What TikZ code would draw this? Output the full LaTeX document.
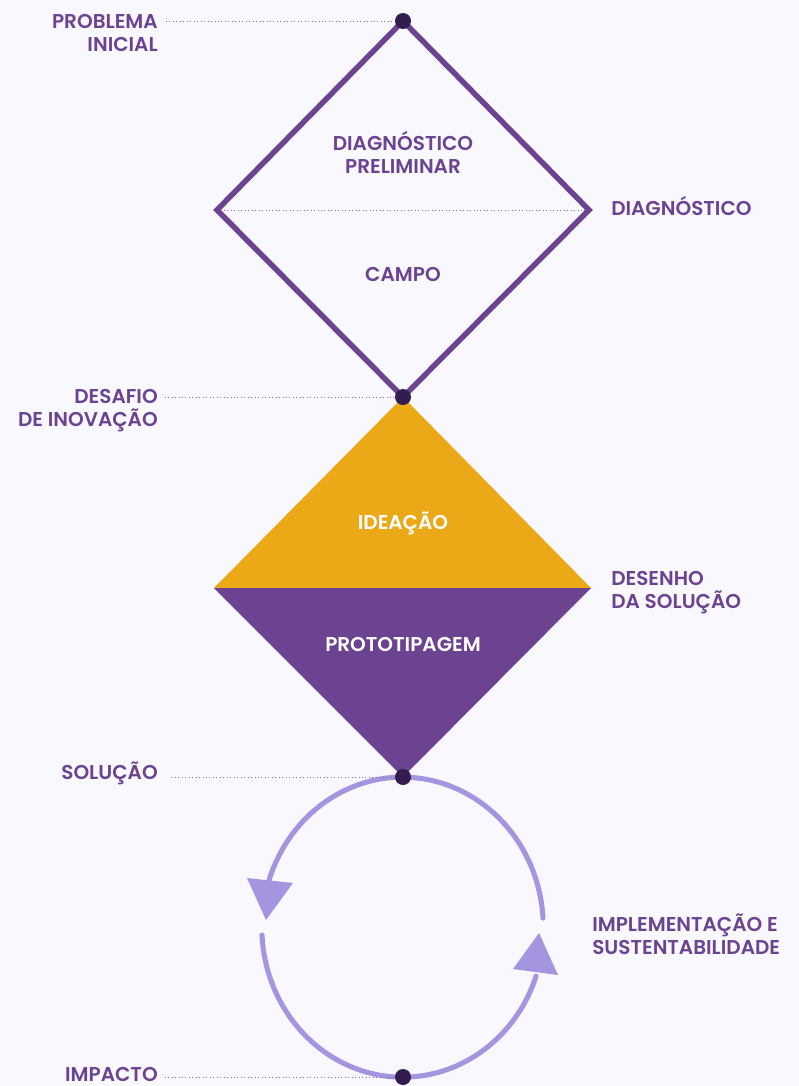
\documentclass[tikz,border=0pt]{standalone}
\usepackage{fontspec}
\setmainfont{Poppins}[BoldFont={Poppins SemiBold}]
\definecolor{bg}{HTML}{F9F8FE}
\definecolor{pur}{HTML}{6B4391}
\definecolor{dark}{HTML}{331D4F}
\definecolor{org}{HTML}{EBA817}
\definecolor{lav}{HTML}{A594E0}
\tikzset{
  lbl/.style={text=pur, font=\bfseries\fontsize{15}{17.25}\selectfont, inner sep=0pt},
  lblr/.style={lbl, align=right, anchor=east},
  lbll/.style={lbl, align=left, anchor=west},
  lblc/.style={lbl, align=center},
  inner/.style={lbl, align=center, text=white},
  dot/.style={circle, fill=dark, minimum size=12pt, inner sep=0pt},
  guide/.style={pur!80, line width=0.6pt, dotted},
  edge/.style={pur, line width=4.1pt, line join=miter},
  ring/.style={lav, line width=3.8pt, line cap=round},
  tri/.style={fill=lav}
}
\begin{document}
\begin{tikzpicture}[x=0.75pt,y=-0.75pt]
\fill[bg] (0,0) rectangle (799,1086);
\useasboundingbox (0,0) rectangle (799,1086);
% coordinates
\coordinate (L1) at (217,210);
\coordinate (R1) at (589,210);
\coordinate (L2) at (214,588);
\coordinate (R2) at (591,588);
% second diamond fill
\fill[org] (403,397) -- (L2) -- (R2) -- cycle;
\fill[pur] (L2) -- (R2) -- (403,777) -- cycle;
% first diamond
\draw[guide] (L1) -- (R1);
\draw[edge] (403,21) -- (L1) -- (403,397) -- (R1) -- cycle;
% ring
\draw[ring] (403,777) arc[start angle=-90, end angle=-163, x radius=141, y radius=150];
\draw[ring] (262,935) arc[start angle=-183, end angle=-341, x radius=141, y radius=150];
\draw[ring] (543,918) arc[start angle=-3.5, end angle=-90, x radius=141, y radius=150];
\fill[tri] (247,878) -- (293,883) -- (266,920) -- cycle;
\fill[tri] (513,969) -- (558,975) -- (539,933) -- cycle;
% dots
\node[dot] (d1) at (403,21) {};
\node[dot] (d2) at (403,397) {};
\node[dot] (d3) at (403,777) {};
\node[dot] (d4) at (403,1077) {};
% labels
\node[lblr, anchor=base east] (problema) at (158,51) {PROBLEMA\\INICIAL};
\node[lblr, anchor=base east] (desafio) at (158,426) {DESAFIO\\DE INOVAÇÃO};
\node[lblr, anchor=base east] (solucao) at (158,779) {SOLUÇÃO};
\node[lblr, anchor=base east] (impacto) at (158,1081) {IMPACTO};
\node[lbll, anchor=base west] (diag) at (611,215) {DIAGNÓSTICO};
\node[lbll, anchor=base west] (desenho) at (611,608) {DESENHO\\DA SOLUÇÃO};
\node[lbll, anchor=base west] (impl) at (592,954) {IMPLEMENTAÇÃO E\\SUSTENTABILIDADE};
\node[lblc, anchor=base] (prelim) at (403,173) {DIAGNÓSTICO\\PRELIMINAR};
\node[lblc, anchor=base] (campo) at (403,281) {CAMPO};
\node[inner, anchor=base] (ideacao) at (403,529) {IDEAÇÃO};
\node[inner, anchor=base] (proto) at (403,651) {PROTOTIPAGEM};
% guides
\draw[guide] ([xshift=6pt]problema.east |- d1) -- (d1);
\draw[guide] ([xshift=5pt]desafio.east |- d2) -- (d2);
\draw[guide] ([xshift=10pt]solucao.east |- d3) -- (d3);
\draw[guide] ([xshift=5pt]impacto.east |- d4) -- (d4);
\end{tikzpicture}
\end{document}
